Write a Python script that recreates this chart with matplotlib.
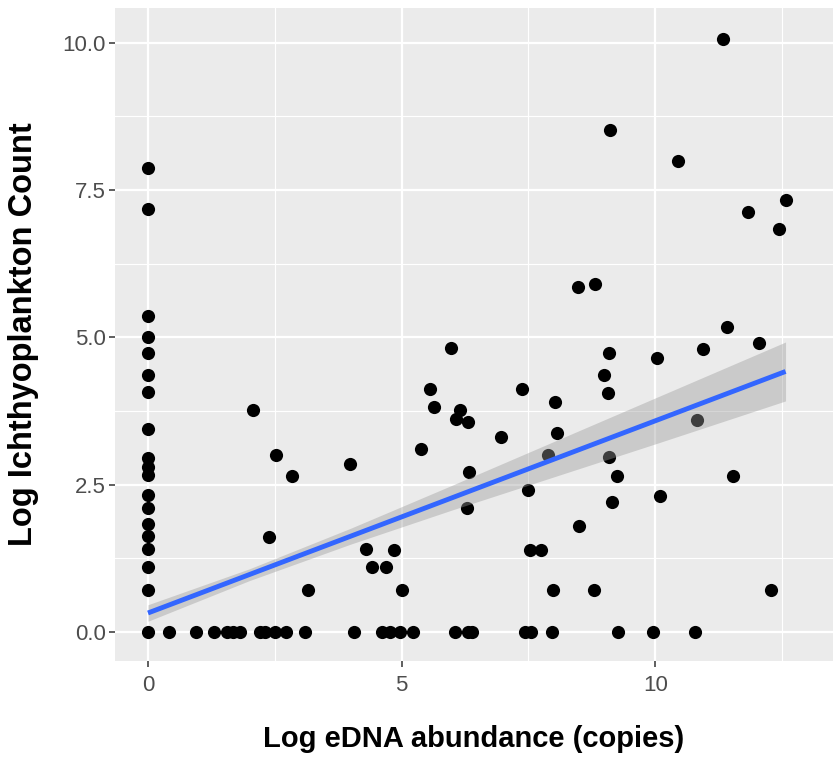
import numpy as np
import matplotlib
matplotlib.use("Agg")
import matplotlib.pyplot as plt

# points: log eDNA copies vs log larval count
edna_zero_col = [0.0] * 19
count_zero_col = [7.88, 7.17, 5.36, 5.00, 4.74, 4.36, 4.07, 3.44, 2.95, 2.80,
                  2.66, 2.32, 2.10, 1.83, 1.62, 1.40, 1.10, 0.71, 0.0]

edna_zero_row = [0.41, 0.95, 1.30, 1.55, 1.68, 1.81, 2.21, 2.31, 2.50, 2.72,
                 3.09, 4.06, 4.62, 4.78, 4.97, 5.23, 6.06, 6.31, 6.39, 7.44,
                 7.55, 7.97, 9.27, 9.95, 10.78]
count_zero_row = [0.0] * len(edna_zero_row)

edna_other = [2.08, 2.52, 2.84, 3.99, 2.39, 3.16, 4.29, 4.85, 4.42, 4.70, 5.00,
              5.97, 5.57, 5.64, 6.15, 6.08, 6.31, 5.39, 6.96, 6.33, 6.29,
              7.38, 8.02, 8.07, 7.89, 7.50, 7.54, 7.75, 7.99, 8.49, 8.79,
              9.09, 8.99, 9.06, 9.08, 9.24, 9.14,
              11.33, 9.10, 10.45, 12.58, 11.83, 12.45, 8.47, 8.81,
              11.42, 10.04, 10.95, 12.04, 10.82, 11.53, 10.10, 12.29]
count_other = [3.76, 3.00, 2.65, 2.85, 1.61, 0.71, 1.40, 1.39, 1.10, 1.10, 0.71,
               4.81, 4.12, 3.81, 3.76, 3.61, 3.57, 3.10, 3.31, 2.72, 2.10,
               4.13, 3.90, 3.38, 3.01, 2.41, 1.39, 1.39, 0.71, 1.80, 0.71,
               4.74, 4.36, 4.06, 2.97, 2.65, 2.21,
               10.07, 8.52, 8.00, 7.33, 7.12, 6.84, 5.85, 5.90,
               5.18, 4.65, 4.80, 4.91, 3.59, 2.65, 2.31, 0.71]

# fitted lm line and its 95% band
# (many overlapping points at 0,0 are hidden, so refitting doesn't match)
fit_x = [0.0, 12.57]
fit_y = [0.32, 4.42]
band_x = [0, 2, 4, 6, 8, 10, 12.57]
band_lo = [0.18, 0.87, 1.49, 2.07, 2.63, 3.19, 3.92]
band_hi = [0.46, 1.07, 1.76, 2.49, 3.23, 3.97, 4.92]

x = edna_zero_col + edna_zero_row + edna_other
y = count_zero_col + count_zero_row + count_other

narrow = ["DejaVu Sans Condensed", "Liberation Sans Narrow", "Liberation Sans",
          "DejaVu Sans"]

fig = plt.figure(figsize=(8.37, 7.59), dpi=100)
ax = fig.add_axes([0.1374, 0.1295, 0.9949 - 0.1374, 0.9895 - 0.1295])
ax.set_facecolor("#EBEBEB")

ax.scatter(x, y, s=90, color="black", zorder=3, linewidths=0)
ax.fill_between(band_x, band_lo, band_hi, color="#999999", alpha=0.4,
                linewidth=0, zorder=4)
ax.plot(fit_x, fit_y, color="#3366FF", lw=3.5, zorder=5, solid_capstyle="butt")

ax.set_xlim(-0.65, 13.5)
ax.set_ylim(-0.49, 10.59)
ax.set_xticks([0, 5, 10])
ax.set_yticks([0, 2.5, 5, 7.5, 10])
ax.set_xticks([2.5, 7.5, 12.5], minor=True)
ax.set_yticks([1.25, 3.75, 6.25, 8.75], minor=True)
ax.set_xticklabels(["0", "5", "10"])
ax.set_yticklabels(["0.0", "2.5", "5.0", "7.5", "10.0"])

ax.grid(which="major", color="white", lw=1.6)
ax.grid(which="minor", color="white", lw=0.8)
ax.set_axisbelow(True)
for sp in ax.spines.values():
    sp.set_visible(False)

ax.tick_params(which="major", length=4.5, width=1.1, color="#333333",
               labelcolor="#4D4D4D", labelsize=16)
ax.tick_params(axis="x", which="major", pad=6)
ax.tick_params(axis="y", which="major", pad=2)
ax.tick_params(which="minor", length=0)
for lab in ax.get_xticklabels() + ax.get_yticklabels():
    lab.set_family(narrow)
    lab.set_stretch("condensed")

ax.set_xlabel("Log eDNA abundance (copies)", fontsize=21, fontweight="bold",
              family=narrow, fontstretch="condensed", labelpad=21)
ax.set_ylabel("Log Ichthyoplankton Count", fontsize=23.5, fontweight="bold",
              family=["Liberation Sans", "DejaVu Sans"], labelpad=17)

fig.savefig("out.png", dpi=100, facecolor="white")
